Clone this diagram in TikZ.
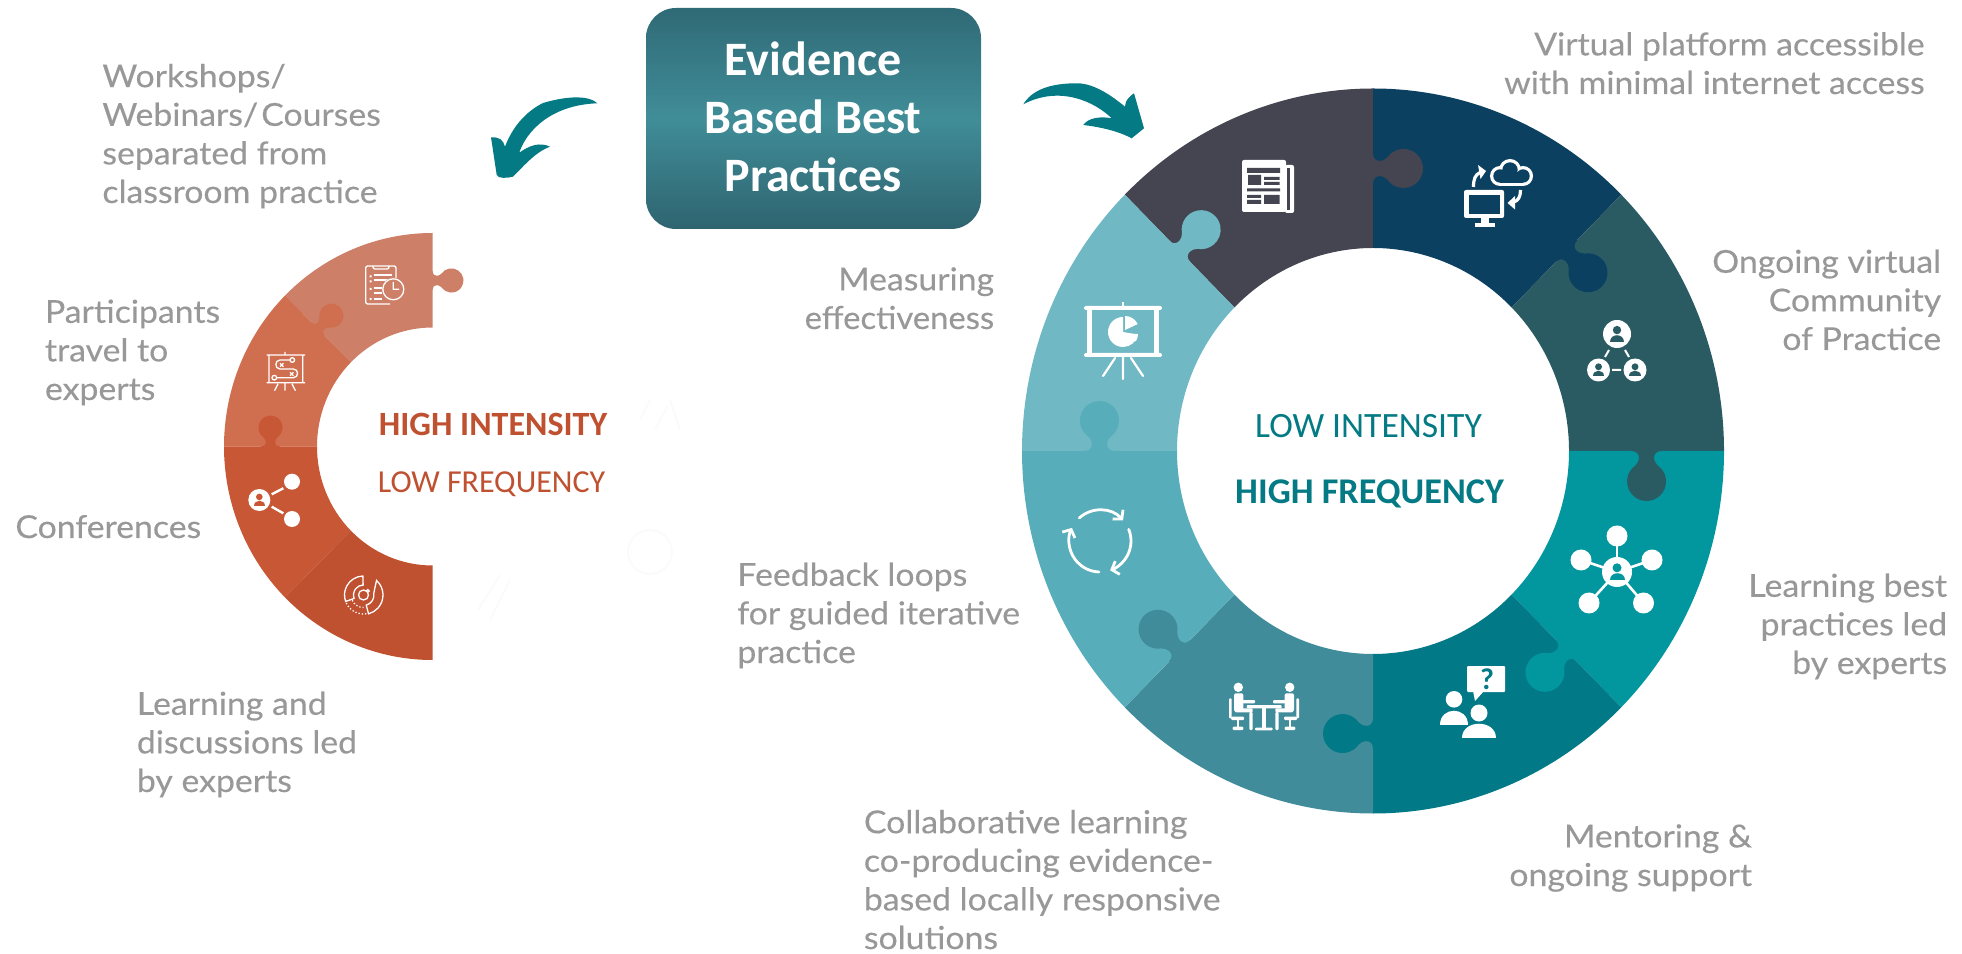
\documentclass[tikz,border=0pt]{standalone}
\usepackage{fontspec}
\usepackage{graphicx}
\usetikzlibrary{arrows.meta}
\newfontfamily\labfont{Lato}[FakeStretch=1.07,FakeBold=0.3]
\newfontfamily\carl{Carlito}
\definecolor{lab}{HTML}{989898}
\definecolor{tealdk}{HTML}{047A84}
\definecolor{redt}{HTML}{BF5030}
\definecolor{ra}{HTML}{CD7F68}
\definecolor{rb}{HTML}{D06F50}
\definecolor{rc}{HTML}{C85835}
\definecolor{rd}{HTML}{BF5030}
\definecolor{sa}{HTML}{454552}
\definecolor{sb}{HTML}{0C4060}
\definecolor{sc}{HTML}{2A5B63}
\definecolor{sd}{HTML}{02969F}
\definecolor{se}{HTML}{017987}
\definecolor{sf}{HTML}{408C9A}
\definecolor{sg}{HTML}{57ADBA}
\definecolor{sh}{HTML}{6FB8C4}
\definecolor{boxa}{HTML}{2F6A76}
\definecolor{boxb}{HTML}{408D98}
\definecolor{boxc}{HTML}{2E6470}
\newcommand{\sector}[9]{\fill[#9] ({#1+#3*cos(#7)},{#2+#4*sin(#7)}) arc[start angle=#7,end angle=#8,x radius=#3,y radius=#4] -- ({#1+#5*cos(#8)},{#2+#6*sin(#8)}) arc[start angle=#8,end angle=#7,x radius=#5,y radius=#6] -- cycle;}
% tab at parameter angle #1 on mid-ellipse (#2,#3), radii (#4,#5), scale #6, colour #7
\newcommand{\puzzle}[7]{\fill[#7,shift={({#2+#4*cos(#1)},{#3+#5*sin(#1)})},rotate=#1-90,scale=#6]
 (-1,15) -- (0,15) .. controls (0,10) and (3,7.5) .. (7,7.5) .. controls (10,7.5) and (12,9) .. (14.5,11.2) arc[start angle=145,end angle=-145,radius=19.5] .. controls (12,-9) and (10,-7.5) .. (7,-7.5) .. controls (3,-7.5) and (0,-10) .. (0,-15) -- (-1,-15) -- cycle;}
\newcommand{\personin}[4]{\fill[white] (#1,#2) circle[radius=#3];
 \fill[#4] (#1,{#2+.28*#3}) circle[radius={.3*#3}];
 \fill[#4] ({#1-.5*#3},{#2-.55*#3}) .. controls ({#1-.5*#3},{#2+.05*#3}) and ({#1+.5*#3},{#2+.05*#3}) .. ({#1+.5*#3},{#2-.55*#3}) -- cycle;}
\tikzset{x=.5pt,y=.5pt,
 grey/.style={inner sep=0,text=lab,font=\labfont\fontsize{15.8}{19.3}\selectfont},
 greyl/.style={grey,anchor=base west,align=left},
 greyr/.style={grey,anchor=base east,align=right},
 iconline/.style={white,line width=1.1pt,line cap=round},
 thinline/.style={white,line width=.65pt},
 ghost/.style={draw=black!2,line width=.8pt,fill=none}}
\begin{document}
\begin{tikzpicture}
\useasboundingbox (0,0) rectangle (1962,953);
% ---------- big ring
\def\cx{1373}\def\cy{502}
\sector{\cx}{\cy}{351}{362.5}{196}{203}{90}{135}{sa}
\sector{\cx}{\cy}{351}{362.5}{196}{203}{45}{90}{sb}
\sector{\cx}{\cy}{351}{362.5}{196}{203}{0}{45}{sc}
\sector{\cx}{\cy}{351}{362.5}{196}{203}{-45}{0}{sd}
\sector{\cx}{\cy}{351}{362.5}{196}{203}{-90}{-45}{se}
\sector{\cx}{\cy}{351}{362.5}{196}{203}{-135}{-90}{sf}
\sector{\cx}{\cy}{351}{362.5}{196}{203}{-180}{-135}{sg}
\sector{\cx}{\cy}{351}{362.5}{196}{203}{135}{180}{sh}
\puzzle{90}{\cx}{\cy}{273.5}{282.5}{1}{sa}
\puzzle{45}{\cx}{\cy}{273.5}{282.5}{1}{sb}
\puzzle{0}{\cx}{\cy}{273.5}{282.5}{1}{sc}
\puzzle{-45}{\cx}{\cy}{273.5}{282.5}{1}{sd}
\puzzle{-90}{\cx}{\cy}{273.5}{282.5}{1}{se}
\puzzle{-135}{\cx}{\cy}{273.5}{282.5}{1}{sf}
\puzzle{180}{\cx}{\cy}{273.5}{282.5}{1}{sg}
\puzzle{135}{\cx}{\cy}{273.5}{282.5}{1}{sh}
% ---------- left half ring
\def\lx{432.5}\def\ly{506.5}
\sector{\lx}{\ly}{208.5}{213.5}{115.5}{119}{90}{135}{ra}
\sector{\lx}{\ly}{208.5}{213.5}{115.5}{119}{135}{180}{rb}
\sector{\lx}{\ly}{208.5}{213.5}{115.5}{119}{180}{225}{rc}
\sector{\lx}{\ly}{208.5}{213.5}{115.5}{119}{225}{270}{rd}
\puzzle{90}{\lx}{\ly}{162}{166}{.62}{ra}
\puzzle{135}{\lx}{\ly}{162}{166}{.62}{rb}
\puzzle{180}{\lx}{\ly}{162}{166}{.62}{rc}
% ---------- central box
\node[inner sep=0,minimum width=167.5pt,minimum height=110.5pt,rounded corners=15pt,top color=boxa,bottom color=boxc,middle color=boxb] (box) at (813.5,{953-118.5}) {};
\node[inner sep=0,anchor=base,text=white,align=center,font=\carl\bfseries\fontsize{24}{29}\selectfont] (boxt) at (813,{953-191.5}) {Evidence\\Based Best\\Practices};
% ---------- arrows
\fill[tealdk] (597.3,{953-103.3}) .. controls (590,{953-96}) and (570,{953-95}) .. (543,{953-103}) .. controls (525,{953-112}) and (512,{953-128}) .. (505,{953-146.7}) .. controls (503,{953-140}) and (500,{953-137}) .. (491,{953-137.3}) -- (496.7,{953-175}) .. controls (498,{953-179}) and (508,{953-178}) .. (513,{953-176.7}) .. controls (522,{953-168}) and (535,{953-152}) .. (550,{953-146.7}) .. controls (540,{953-142}) and (530,{953-145}) .. (519.3,{953-152.7}) .. controls (526,{953-132}) and (550,{953-105}) .. (597.3,{953-103.3}) -- cycle;
\fill[tealdk] (1023.3,{953-104.3}) .. controls (1032,{953-90}) and (1050,{953-83}) .. (1078.3,{953-83.3}) .. controls (1095,{953-84}) and (1112,{953-96}) .. (1125,{953-106.7}) .. controls (1125,{953-100}) and (1130,{953-96}) .. (1134,{953-93.3}) -- (1144,{953-128.3}) -- (1131.7,{953-138.3}) .. controls (1118,{953-131}) and (1100,{953-127}) .. (1083.3,{953-125}) .. controls (1088,{953-118}) and (1100,{953-116}) .. (1111.7,{953-118.3}) .. controls (1095,{953-102}) and (1060,{953-85}) .. (1023.3,{953-104.3}) -- cycle;
% ---------- icons: newspaper
\begin{scope}[shift={(1268,{953-187})}]
\fill[white,rounded corners=1pt] (-26,27) rectangle (18,-25);
\fill[white,rounded corners=1pt] (17,22) rectangle (26,-26);
\fill[sa] (18.5,19) rectangle (21.5,-23);
\fill[sa] (-21,19) rectangle (12,14) (-20,12) rectangle (-7,2) (-4,10) rectangle (11.5,7) (-4,5) rectangle (11.5,2) (-21,-1.5) rectangle (12,-4.5) (-21,-8) rectangle (-7,-11) (-21,-13) rectangle (-7,-17) (-4,-8) rectangle (11.5,-17);
\end{scope}
% cloud + monitor
\foreach \cbx/\cby/\cbr in {1500/176/10,1510/170/11,1523/176/10}{\fill[white] (\cbx,{953-\cby}) circle[radius=\cbr];}
\fill[white] (1500,{953-186}) rectangle (1523,{953-172});
\foreach \cbx/\cby/\cbr in {1500/176/6.7,1510/170/7.7,1523/176/6.7}{\fill[sb] (\cbx,{953-\cby}) circle[radius=\cbr];}
\fill[sb] (1500,{953-182.7}) rectangle (1523,{953-172});
\fill[white,rounded corners=1pt] (1464,{953-190}) rectangle (1504,{953-218});
\fill[sb] (1469,{953-195}) rectangle (1500,{953-214});
\fill[white] (1481,{953-218}) rectangle (1489,{953-224});
\fill[white] (1475,{953-223}) rectangle (1495,{953-227.5});
\draw[white,line width=1.6pt] (1473.5,{953-187}) .. controls (1473.5,{953-179}) and (1475,{953-175}) .. (1480,{953-172.5});
\fill[white] (1486,{953-171}) -- (1478,{953-165}) -- (1480.5,{953-179}) -- cycle;
\draw[white,line width=1.6pt] (1520.5,{953-190}) .. controls (1520.5,{953-197}) and (1518,{953-201}) .. (1513.5,{953-202});
\fill[white] (1507.5,{953-203}) -- (1515,{953-196}) -- (1515,{953-209.5}) -- cycle;
% community
\personin{1617}{619}{14}{sc}
\personin{1598.5}{583}{11.5}{sc}
\personin{1635}{583}{11.5}{sc}
\draw[iconline,line width=1pt,line cap=butt] (1609,{953-350}) -- (1605,{953-357}) (1625,{953-350}) -- (1629,{953-357}) (1612,{953-370}) -- (1621,{953-370});
% presentation
\begin{scope}[shift={(1123,{953-341})}]
\fill[white,rounded corners=1pt] (-39,35) rectangle (39,31);
\fill[white,rounded corners=1pt] (-39,-12) rectangle (39,-16);
\fill[white] (-36,31) rectangle (-31,-12);
\fill[white] (31,31) rectangle (36,-12);
\fill[white] (-1,39) rectangle (1,31);
\draw[iconline,line width=1.1pt] (0,-16) -- (0,-38) (-8,-17) -- (-20,-35) (8,-17) -- (20,-35);
\fill[white] (0,9) -- (0,24) arc[start angle=90,end angle=350,x radius=15,y radius=15] -- cycle;
\fill[white] (2,11) -- (2,25) arc[start angle=90,end angle=25,radius=14] -- cycle;
\fill[white] (2,7) -- (15,7) arc[start angle=0,end angle=-35,radius=13] -- cycle;
\end{scope}
% cycle
\begin{scope}[shift={(1100,{953-541})}]
\tikzset{cyc/.style={white,line width=1.4pt,line cap=round,-{Straight Barb[length=3pt,width=7pt]}}}
\draw[cyc] (132:31) arc[start angle=132,end angle=42,radius=31];
\draw[cyc] (22:31) arc[start angle=22,end angle=-71,radius=31];
\draw[cyc] (-92:31) arc[start angle=-92,end angle=-205,radius=31];
\end{scope}
% hub
\foreach \hx/\hy in {1617/536,1581/560,1652/560,1589/603,1643.5/603}{
 \draw[iconline,line width=1.3pt] (1617,{953-572}) -- (\hx,{953-\hy});
 \fill[white] (\hx,{953-\hy}) circle[radius=10.5];}
\personin{1617}{381}{15}{sd}
% mentor
\fill[white,rounded corners=.5pt] (1467,{953-666}) rectangle (1505,{953-692});
\fill[white] (1473,{953-691}) -- (1475,{953-701}) -- (1484,{953-691}) -- cycle;
\node[inner sep=0,text=se,font=\carl\bfseries\fontsize{15}{15}\selectfont] (q) at (1487,{953-679}) {?};
\fill[white] (1454,{953-699.3}) circle[radius=8.3];
\fill[white] (1440,{953-725}) .. controls (1440,{953-706}) and (1468,{953-706}) .. (1468,{953-725}) -- cycle;
\fill[se] (1479,{953-713}) circle[radius=11];
\fill[se] (1459,{953-741}) .. controls (1459,{953-716}) and (1499,{953-716}) .. (1499,{953-741}) -- cycle;
\fill[white] (1479,{953-713}) circle[radius=8.5];
\fill[white] (1462,{953-738}) .. controls (1462,{953-719}) and (1496,{953-719}) .. (1496,{953-738}) -- cycle;
% table
\begin{scope}[shift={(1264,{953-700})}]
\foreach \sx in {1,-1}{\begin{scope}[xscale=\sx]
 \fill[white] (-25.7,12.7) circle[radius=4.7];
 \fill[white,rounded corners=1pt] (-30,6.7) rectangle (-20.7,-11.7);
 \fill[white,rounded corners=.5pt] (-21.5,0) rectangle (-9,-3.3);
 \fill[white,rounded corners=.5pt] (-29,-8.3) rectangle (-11.3,-12.3);
 \fill[white,rounded corners=.5pt] (-14.7,-12) rectangle (-11.3,-30);
 \fill[white,rounded corners=.5pt] (-35,1.7) rectangle (-32.3,-18.3);
 \fill[white,rounded corners=.5pt] (-33,-16.7) rectangle (-20,-20);
 \fill[white] (-27.3,-20) rectangle (-25,-26.7);
 \fill[white,rounded corners=.5pt] (-31.3,-26.7) rectangle (-20.7,-30);
\end{scope}}
\fill[white,rounded corners=.5pt] (-17.3,-5) rectangle (17.7,-8.3);
\fill[white] (-2.3,-8.3) rectangle (1.7,-28.3);
\fill[white,rounded corners=.5pt] (-9,-27.7) rectangle (8.7,-30.3);
\end{scope}
% left icons: clipboard clock
\begin{scope}[shift={(380,{953-285})}]
\draw[thinline,rounded corners=1pt] (16,-1) -- (16,19) -- (-14.3,19) -- (-14.3,-19) -- (10,-19);
\draw[thinline,rounded corners=1pt] (-7,19) -- (-7,16) -- (9,16) -- (9,19);
\fill[white] (-10.5,9.5) rectangle (-8.5,7.5) (-10.5,4.5) rectangle (-8.5,2.5) (-10.5,-3) rectangle (-8.5,-5) (-10.5,-13) rectangle (-8.5,-15);
\draw[thinline] (-6.5,10) -- (12,10) (-6.5,5) -- (8,5) (-6.5,-3) -- (2,-3) (-6.5,-8) -- (2,-8) (-6.5,-14) -- (2,-14);
\fill[ra] (13.3,-4.3) circle[radius=11.5];
\draw[thinline] (13.3,-4.3) circle[radius=10.5] (13.3,3) -- (13.3,-4.3) -- (19,-4.3);
\end{scope}
% strategy board
\begin{scope}[shift={(285,{953-370})}]
\draw[thinline] (-16,15) rectangle (17.7,-12.7) (-18.3,15) -- (20,15) (-18.3,-12.7) -- (20,-12.7) (0,15) -- (0,18) (0,-12.7) -- (0,-20.7) (-7,-14) -- (-10.5,-20.7) (7,-14) -- (10.5,-20.7);
\draw[thinline] (5,10) -- (-5,10) .. controls (-10.5,10) and (-10.5,1) .. (-5,1) -- (8.3,1) .. controls (14,1) and (14,-7.7) .. (8.3,-7.7) -- (-8.3,-7.7);
\draw[thinline] (7.3,10) circle[radius=2.3] (-10.7,-7.7) circle[radius=2.3];
\draw[thinline] (-5,6.7) -- (-1.6,3.3) (-5,3.3) -- (-1.6,6.7) (5,-2.3) -- (8.4,-5.7) (5,-5.7) -- (8.4,-2.3);
\end{scope}
% share
\draw[iconline,line width=1.2pt,line cap=butt] (271.7,{953-494.3}) -- (283.3,{953-488.3}) (271.7,{953-506.7}) -- (283.3,{953-513.3});
\personin{259.3}{453}{11}{rc}
\fill[white] (292,{953-481.7}) circle[radius=8];
\fill[white] (292,{953-519}) circle[radius=8];
% target
\begin{scope}[shift={(363.5,{953-595})}]
\draw[thinline] (92:19) arc[start angle=92,end angle=200,radius=19] -- (200:10) arc[start angle=200,end angle=92,radius=10] -- cycle;
\draw[thinline] (48:19.5) arc[start angle=48,end angle=-75,radius=19.5] -- (-75:10.5) arc[start angle=-75,end angle=10,radius=10.5] -- (30:13) -- cycle;
\draw[thinline,densely dotted] (205:19) arc[start angle=205,end angle=282,radius=19];
\draw[thinline,densely dotted] (205:12.5) arc[start angle=205,end angle=270,radius=12.5];
\draw[thinline] (0,0) circle[radius=5] (4.3,4) circle[radius=1.5];
\end{scope}
% faint ghost marks
\draw[ghost] (650,{953-552}) circle[radius=22];
\draw[ghost] (640,{953-420}) -- (650,{953-400}) (670,{953-400}) -- (680,{953-430}) (655,{953-430}) -- (668,{953-405});
\draw[ghost] (478,{953-610}) -- (500,{953-575}) (490,{953-620}) -- (510,{953-580});
% ---------- centre labels
\node[inner sep=0,anchor=base,text=redt,font=\carl\bfseries\fontsize{17}{17}\selectfont] (hi1) at (493,{953-435.5}) {HIGH INTENSITY};
\node[inner sep=0,anchor=base,text=redt,font=\carl\fontsize{16}{16}\selectfont] (lo1) at (491.5,{953-492.5}) {LOW FREQUENCY};
\node[inner sep=0,anchor=base,text=tealdk,font=\carl\fontsize{17.8}{17.8}\selectfont] (lo2) at (1368.5,{953-437.5}) {LOW INTENSITY};
\node[inner sep=0,anchor=base,text=tealdk,font=\carl\bfseries\fontsize{18.1}{18.1}\selectfont] (hi2) at (1369.5,{953-503.5}) {HIGH FREQUENCY};
% ---------- grey labels
\node[greyl] (t1) at (102,{953-203}) {Workshops/\\Webinars/\hspace{1.5pt}Courses\\separated from\\classroom practice};
\node[greyl] (t2) at (44.6,{953-400}) {Participants\\travel to\\experts};
\node[greyl] (t3) at (15,{953-538}) {Conferences};
\node[greyl] (t4) at (136.5,{953-792}) {Learning and\\discussions led\\by experts};
\node[greyr] (t5) at (994.5,{953-329}) {Measuring\\\scalebox{.97}[1]{effectiveness}};
\node[greyr] (t6) at (1925,{953-94}) {Virtual platform accessible\\with minimal internet access};
\node[greyr] (t7) at (1941.5,{953-350}) {Ongoing virtual\\Community\\of Practice};
\node[greyr] (t8) at (1947.5,{953-674}) {Learning best\\practices led\\by experts};
\node[greyr] (t9) at (1752.5,{953-886}) {Mentoring \&\\ongoing support};
\node[greyl] (t10) at (863.5,{953-949}) {Collaborative learning\\co-producing evidence-\\based locally responsive\\solutions};
\node[greyl] (t11) at (737,{953-663}) {Feedback loops\\for guided iterative\\practice};
\end{tikzpicture}
\end{document}
